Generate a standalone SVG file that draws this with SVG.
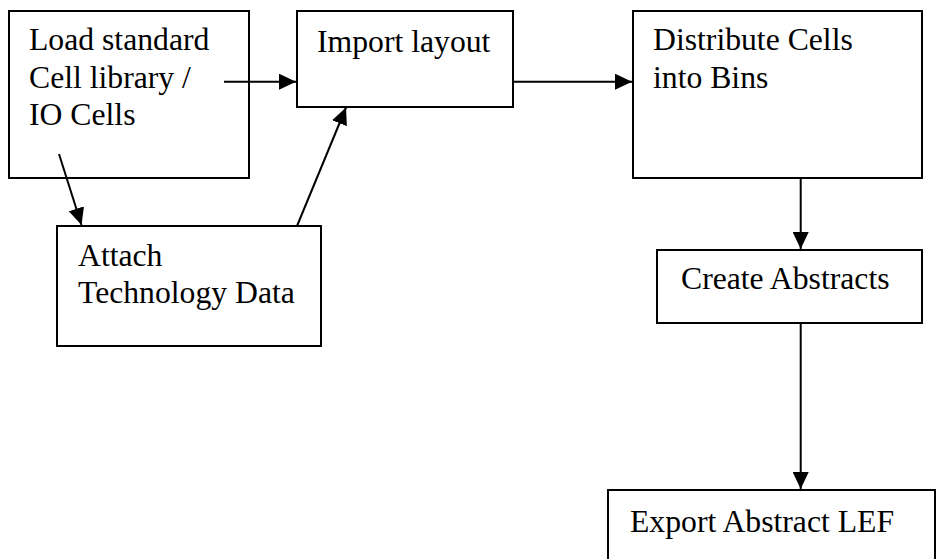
<svg xmlns="http://www.w3.org/2000/svg" width="936" height="559" viewBox="0 0 936 559">
<style>
.box{fill:#fff;stroke:#000;stroke-width:2}
.t{font-family:"Liberation Serif","Times New Roman",serif;font-size:31.7px;fill:#000}
.c{stroke:#000;stroke-width:2;fill:none;marker-end:url(#ah)}
</style>
<defs>
<marker id="ah" markerUnits="userSpaceOnUse" markerWidth="18" markerHeight="16" refX="17" refY="8" orient="auto">
<path d="M0,0 L17,8 L0,16 Z" fill="#000"/>
</marker>
</defs>
<rect width="936" height="559" fill="#fff"/>
<g id="load">
<rect class="box" x="9" y="11" width="240" height="167"/>
<text class="t" x="29" y="50">Load standard</text>
<text class="t" x="29" y="88">Cell library /</text>
<text class="t" x="29" y="125">IO Cells</text>
</g>
<g id="import">
<rect class="box" x="297" y="11" width="216" height="96"/>
<text class="t" x="317" y="51.5">Import layout</text>
</g>
<g id="distribute">
<rect class="box" x="633" y="11" width="289" height="167"/>
<text class="t" x="653" y="50">Distribute Cells</text>
<text class="t" x="653" y="87.5">into Bins</text>
</g>
<g id="attach">
<rect class="box" x="57" y="226" width="264" height="120"/>
<text class="t" x="78" y="266">Attach</text>
<text class="t" x="78" y="303">Technology Data</text>
</g>
<g id="create">
<rect class="box" x="657" y="250" width="265" height="73"/>
<text class="t" x="681" y="289">Create Abstracts</text>
</g>
<g id="export">
<rect class="box" x="608" y="490" width="327" height="80"/>
<text class="t" x="630" y="531.5">Export Abstract LEF</text>
</g>
<g id="connectors">
<line class="c" x1="224" y1="81.7" x2="296" y2="81.7"/>
<line class="c" x1="59" y1="154" x2="81.5" y2="225"/>
<line class="c" x1="297" y1="226" x2="346" y2="107.5"/>
<line class="c" x1="513" y1="81.7" x2="632" y2="81.7"/>
<line class="c" x1="800.7" y1="178" x2="800.7" y2="249"/>
<line class="c" x1="800.7" y1="323" x2="800.7" y2="489"/>
</g>
</svg>
